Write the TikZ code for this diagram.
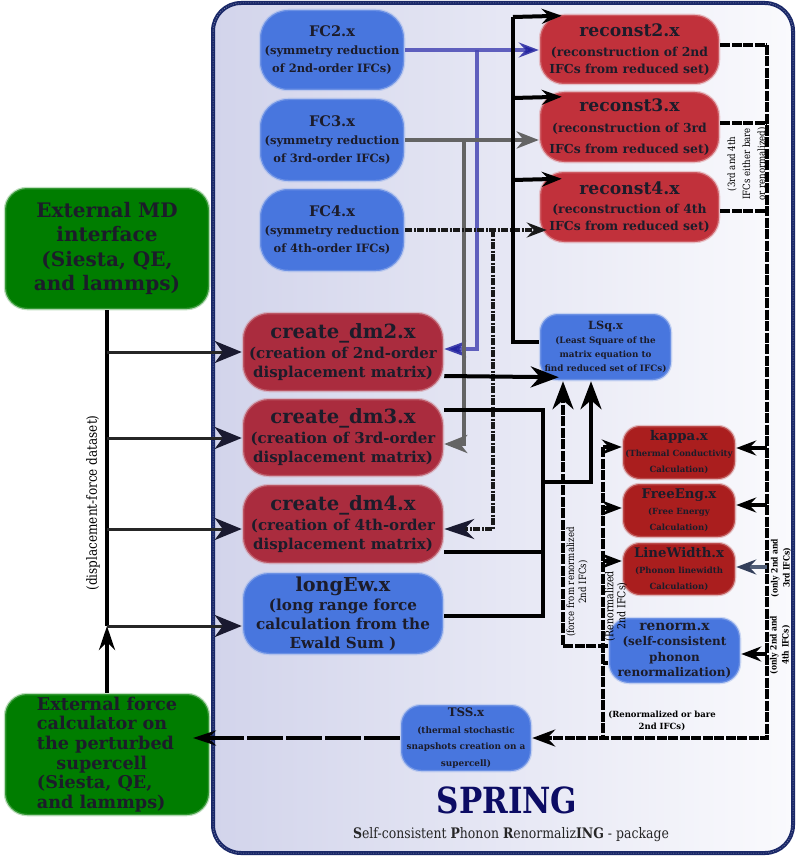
\documentclass[tikz,border=0pt]{standalone}
\usepackage{fontspec}
\setmainfont{DejaVu Serif}
\newfontfamily\condserif[FakeStretch=0.86]{DejaVu Serif}
\usetikzlibrary{arrows.meta}

\definecolor{frameblue}{RGB}{26,40,104}
\definecolor{panelL}{RGB}{210,212,235}
\definecolor{panelR}{RGB}{250,250,253}
\definecolor{boxblue}{RGB}{72,118,222}
\definecolor{boxred}{RGB}{193,49,59}
\definecolor{dmred}{RGB}{170,44,62}
\definecolor{calcred}{RGB}{170,30,30}
\definecolor{extgreen}{RGB}{0,125,0}
\definecolor{ink}{RGB}{28,28,42}
\definecolor{wireblue}{RGB}{72,72,180}
\definecolor{tipblue}{RGB}{36,36,160}
\definecolor{wiregray}{RGB}{100,100,100}
\definecolor{tipnavy}{RGB}{26,26,48}
\definecolor{slate}{RGB}{80,94,120}
\definecolor{slatetip}{RGB}{50,62,90}
\definecolor{titlenavy}{RGB}{12,12,100}

\newcommand\setfs[2]{\fontsize{#1}{#2}\selectfont}

\tikzset{
  unit/.style={align=center, inner sep=0pt, text=ink,
               line width=2.5pt, draw opacity=0.45},
  bluebox/.style={unit, fill=boxblue, draw=boxblue!55!white},
  redbox/.style={unit, fill=boxred, draw=boxred!55!white},
  dmbox/.style={unit, fill=dmred, draw=dmred!55!white},
  calcbox/.style={unit, fill=calcred, draw=calcred!55!white},
  greenbox/.style={unit, fill=extgreen, draw=extgreen!55!white, rounded corners=22pt},
  wire/.style={line width=4pt, black},
  feedwire/.style={line width=3pt, black!85},
  bus/.style={line width=4pt, black, dash pattern=on 10pt off 1.5pt},
  dotwire/.style={line width=4pt, black!90, dash pattern=on 7pt off 1.5pt on 2pt off 1.5pt},
  longdash/.style={line width=4pt, black, dash pattern=on 36pt off 3pt},
  bluewire/.style={line width=3.5pt, wireblue, draw opacity=0.85},
  graywire/.style={line width=4pt, wiregray},
  tip/.style={-{Stealth[length=20pt,width=15pt,inset=7pt]}},
  bigtip/.style={-{Stealth[length=28pt,width=21pt,inset=9pt]}},
  feedtip/.style={-{Stealth[length=27pt,width=22pt,inset=8pt,color=tipnavy]}},
  lab/.style={inner sep=0pt, align=center, text=black},
}

\begin{document}
\begin{tikzpicture}[x=1pt,y=-1pt]
\useasboundingbox (0,0) rectangle (795,856);

% package frame
\draw[frameblue, line width=4pt, rounded corners=28pt, left color=panelL, right color=panelR]
  (213,3) rectangle (793,853);
\draw[white, line width=0.5pt, dash pattern=on 1pt off 1.5pt, rounded corners=28pt, opacity=0.5]
  (213,3) rectangle (793,853);

% external programs
\node[greenbox, minimum width=204pt, minimum height=121pt, font=\bfseries\setfs{20}{24.5}] (md) at (107,248.5)
  {External MD\\interface\\(Siesta, QE,\\and lammps)};
\node[greenbox, minimum width=204pt, minimum height=121pt, align=left, font=\bfseries\setfs{17.6}{19.6}] (ext) at (107,754.5)
  {External force\\calculator on\\the perturbed\\\hspace*{1.1em}supercell\\(Siesta, QE,\\and lammps)};

% symmetry reduction
\node[bluebox, rounded corners=28pt, minimum width=144pt, minimum height=80pt, font=\bfseries\setfs{11.5}{18}] (fc2) at (332,50)
  {{\setfs{14.6}{18}FC2.x}\\(symmetry reduction\\of 2nd-order IFCs)};
\node[bluebox, rounded corners=28pt, minimum width=144pt, minimum height=82pt, font=\bfseries\setfs{11.5}{18}] (fc3) at (332,140)
  {{\setfs{14.6}{18}FC3.x}\\(symmetry reduction\\of 3rd-order IFCs)};
\node[bluebox, rounded corners=28pt, minimum width=144pt, minimum height=82pt, font=\bfseries\setfs{11.5}{18}] (fc4) at (332,230)
  {{\setfs{14.6}{18}FC4.x}\\(symmetry reduction\\of 4th-order IFCs)};

% reconstruction
\node[redbox, rounded corners=24pt, minimum width=179pt, minimum height=69pt, font=\bfseries\setfs{12.4}{17}] (rc2) at (629.5,49.5)
  {{\setfs{17.2}{17}reconst2.x}\\[3pt](reconstruction of 2nd\\IFCs from reduced set)};
\node[redbox, rounded corners=24pt, minimum width=179pt, minimum height=70pt, font=\bfseries\setfs{12.4}{21}] (rc3) at (629.5,127)
  {{\setfs{17.2}{17}reconst3.x}\\(reconstruction of 3rd\\IFCs from reduced set)};
\node[redbox, rounded corners=24pt, minimum width=179pt, minimum height=70pt, font=\bfseries\setfs{12.4}{16.5}] (rc4) at (629.5,207)
  {{\setfs{17.2}{17}reconst4.x}\\[2.5pt](reconstruction of 4th\\IFCs from reduced set)};

% displacement matrices
\node[dmbox, rounded corners=26pt, minimum width=200pt, minimum height=78pt, font=\bfseries\setfs{15}{19}] (dm2) at (343,352)
  {{\setfs{19.6}{19}create\_dm2.x}\\[1pt](creation of 2nd-order\\displacement matrix)};
\node[dmbox, rounded corners=26pt, minimum width=200pt, minimum height=77pt, font=\bfseries\setfs{15}{19}] (dm3) at (343,437.5)
  {{\setfs{19.6}{19}create\_dm3.x}\\[1pt](creation of 3rd-order\\displacement matrix)};
\node[dmbox, rounded corners=26pt, minimum width=200pt, minimum height=78pt, font=\bfseries\setfs{15}{19}] (dm4) at (343,524)
  {{\setfs{19.6}{19}create\_dm4.x}\\[1pt](creation of 4th-order\\displacement matrix)};
\node[bluebox, rounded corners=26pt, minimum width=200pt, minimum height=81pt, font=\bfseries\setfs{15.2}{19}] (lew) at (343,613.5)
  {{\setfs{19.2}{19}longEw.x}\\(long range force\\calculation from the\\Ewald Sum )};

% least squares
\node[bluebox, rounded corners=18pt, minimum width=131pt, minimum height=66pt, font=\bfseries\setfs{8.8}{14}] (lsq) at (605.5,347)
  {{\setfs{11.3}{14}LSq.x}\\(Least Square of the\\matrix equation to\\find reduced set of IFCs)};

% property calculators
\node[calcbox, rounded corners=17pt, minimum width=112pt, minimum height=53pt, font=\bfseries\setfs{8.5}{16}] (kap) at (679,452.5)
  {{\setfs{13.3}{16}kappa.x}\\(Thermal Conductivity\\Calculation)};
\node[calcbox, rounded corners=17pt, minimum width=112pt, minimum height=53pt, font=\bfseries\setfs{8.5}{16}] (fe) at (679,510.5)
  {{\setfs{13.3}{16}FreeEng.x}\\(Free Energy\\Calculation)};
\node[calcbox, rounded corners=17pt, minimum width=112pt, minimum height=52pt, font=\bfseries\setfs{8.5}{16}] (lw) at (679,569)
  {{\setfs{13.3}{16}LineWidth.x}\\(Phonon linewidth\\Calculation)};
\node[bluebox, rounded corners=20pt, minimum width=131pt, minimum height=65pt, font=\bfseries\setfs{12}{15.5}] (ren) at (674.5,650.5)
  {{\setfs{13.8}{15.5}renorm.x}\\(self-consistent\\phonon\\renormalization)};
\node[bluebox, rounded corners=20pt, minimum width=130pt, minimum height=66pt, font=\bfseries\setfs{8.9}{16.5}] (tss) at (466,738)
  {{\setfs{11.8}{16.5}TSS.x}\\(thermal stochastic\\snapshots creation on a\\supercell)};

% package title
\node[inner sep=0pt, text=titlenavy, font=\condserif\bfseries\setfs{36}{40}] (ttl) at (507,800) {SPRING};
\node[inner sep=0pt, text=black!85, font=\condserif\setfs{14.5}{16}] (sub) at (511,835)
  {\textbf{S}elf-consistent \textbf{P}honon \textbf{R}enormaliz\textbf{ING} - package};

% ---------- connectors ----------
% displacement-force dataset fan-out
\coordinate (f1) at (107,352);
\coordinate (f2) at (107,438);
\coordinate (f3) at (107,529);
\coordinate (f4) at (107,626);
\draw[wire] (md.south) -- (f4);
\draw[wire, -{Stealth[length=24pt,width=16pt,inset=8pt]}] (ext.north) -- (f4);
\draw[feedwire, feedtip] (f1) -- (f1 -| dm2.west);
\draw[feedwire, feedtip] (f2) -- (f2 -| dm3.west);
\draw[feedwire, feedtip] (f3) -- (f3 -| dm4.west);
\draw[feedwire, feedtip] (f4) -- (f4 -| lew.west);
\node[lab, rotate=90, font=\condserif\setfs{14}{16}] (dlab) at (93,503) {(displacement-force dataset)};

% FC2 -> reconst2, create_dm2
\coordinate (b1) at (477,50);
\coordinate (b2) at (477,349);
\draw[bluewire, -{Stealth[length=20pt,width=15pt,inset=7pt,color=tipblue]}] (fc2.east) -- (fc2.east -| rc2.west);
\draw[bluewire, -{Stealth[length=22pt,width=16pt,inset=7pt,color=tipblue]}] (b1) -- (b2) -- (b2 -| dm2.east);

% FC3 -> reconst3, create_dm3
\coordinate (g1) at (464,140);
\coordinate (g2) at (464,444);
\draw[graywire, -{Stealth[length=22pt,width=17pt,inset=7pt]}] (fc3.east) -- (fc3.east -| rc3.west);
\draw[graywire, -{Stealth[length=23pt,width=18pt,inset=7pt]}] (g1) -- (g2) -- (g2 -| dm3.east);

% FC4 -> reconst4, create_dm4
\coordinate (k1) at (493,230);
\coordinate (k2) at (493,529);
\draw[dotwire, tip] (fc4.east) -- ([xshift=8pt]fc4.east -| rc4.west);
\draw[dotwire, -{Stealth[length=30pt,width=20pt,inset=10pt,color=tipnavy]}] (k1) -- (k2) -- (k2 -| dm4.east);

% LSq -> reconstruction
\coordinate (l0) at (513,342);
\coordinate (l1) at (513,17);
\coordinate (l2) at (513,98);
\coordinate (l3) at (513,180);
\draw[wire] ([yshift=5pt]lsq.west) -- (l0) -- (l1);
\draw[wire, tip] (l1) -- ([xshift=23pt,yshift=-2pt]rc2.north west);
\draw[wire, tip] (l2) -- ([xshift=23pt,yshift=-6pt]rc3.north west);
\draw[wire, tip] (l3) -- ([xshift=23pt,yshift=-8pt]rc4.north west);

% reconstructed IFCs bus
\coordinate (r2) at (767,45);
\coordinate (r3) at (767,123);
\coordinate (r4) at (767,211);
\coordinate (rb) at (767,738);
\draw[bus] ([yshift=4.5pt]rc2.east) -- (r2);
\draw[bus] ([yshift=4pt]rc3.east) -- (r3);
\draw[bus] ([yshift=-4pt]rc4.east) -- (r4);
\draw[bus, -{Stealth[length=23pt,width=17pt,inset=8pt]}] (r2) -- (rb) -- (rb -| tss.east);
\coordinate (rk) at (767,448);
\coordinate (rf) at (767,505);
\coordinate (rl) at (767,567);
\coordinate (rr) at (767,654);
\draw[wire, tip] (rk) -- (rk -| kap.east);
\draw[wire, tip] (rf) -- (rf -| fe.east);
\draw[line width=4pt, slate, -{Stealth[length=20pt,width=15pt,inset=7pt,color=slatetip]}] (rl) -- (rl -| lw.east);
\draw[wire, tip] (rr) -- (rr -| ren.east);
\node[lab, rotate=90, font=\condserif\setfs{10}{15}] (blab) at (747,164)
  {(3rd and 4th\\IFCs either bare\\or renormalized)};
\node[lab, rotate=90, font=\condserif\bfseries\setfs{8.8}{12}] (o3lab) at (781,568)
  {(only 2nd and\\3rd IFCs)};
\node[lab, rotate=90, font=\condserif\bfseries\setfs{8.8}{12}] (o4lab) at (780,645)
  {(only 2nd and\\4th IFCs)};

% renormalized 2nd-order IFCs
\coordinate (q0) at (603,447);
\coordinate (qf) at (603,508);
\coordinate (ql) at (603,561);
\coordinate (qr) at (603,663);
\coordinate (qb) at (603,738);
\draw[bus] (q0) -- (qb);
\draw[wire, tip] (q0) -- (q0 -| kap.west);
\draw[wire, tip] (qf) -- (qf -| fe.west);
\draw[wire, tip] (ql) -- (ql -| lw.west);
\draw[wire] (qr) -- (qr -| ren.west);
\node[lab, rotate=90, font=\condserif\setfs{11}{12}] (rlab) at (616,606)
  {(Renormalized\\2nd IFCs)};
\node[lab, font=\bfseries\setfs{8.5}{12}] (rblab) at (662,721)
  {(Renormalized or bare\\2nd IFCs)};

% renorm -> LSq
\coordinate (s0) at (563,646);
\draw[bus, bigtip] (s0 -| ren.west) -- (s0) -- (s0 |- lsq.south);
\node[lab, rotate=90, font=\condserif\setfs{10}{12}] (flab) at (577,582)
  {(force from renormalized\\2nd IFCs)};

% displacement matrices -> LSq
\coordinate (m0) at (543,410);
\coordinate (m1) at (543,482);
\coordinate (m2) at (543,616);
\coordinate (m3) at (591,482);
\coordinate (m4) at (543,552);
\draw[wire] (m0 -| dm3.east) -- (m0) -- (m2) -- (m2 -| lew.east);
\draw[wire] (m4 -| dm4.east) -- (m4);
\draw[wire, bigtip] (m1) -- (m3) -- (m3 |- lsq.south);
\draw[wire, bigtip] ([yshift=-24pt]dm2.east) -- ([xshift=20pt,yshift=4pt]lsq.south west);

% snapshots -> external force calculator
\coordinate (e0) at (193,738);
\draw[longdash, -{Stealth[length=23pt,width=15pt,inset=8pt]}] (tss.west) -- (e0);
\end{tikzpicture}
\end{document}
